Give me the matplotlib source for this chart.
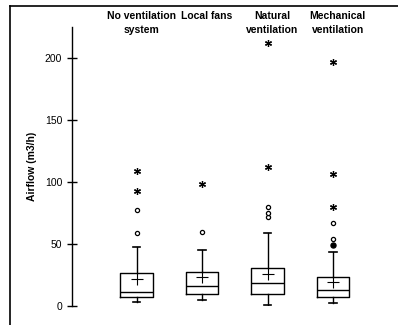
import matplotlib
matplotlib.use("Agg")
from matplotlib import pyplot as plt
from matplotlib.lines import Line2D
from matplotlib.transforms import blended_transform_factory

plt.rcParams['font.family'] = ['Liberation Sans', 'DejaVu Sans']

# box statistics (m3/h)
categories = ["No ventilation\nsystem", "Local fans", "Natural\nventilation", "Mechanical\nventilation"]
q1 = [7.3, 9.4, 9.6, 7.0]
median = [11.3, 16.1, 18.0, 12.9]
q3 = [26.1, 27.4, 30.1, 22.9]
mean = [21.5, 22.9, 25.5, 19.4]
whis_low = [2.7, 4.6, 0.3, 2.4]
whis_high = [47.3, 44.9, 59.0, 43.5]
outliers = [[58.9, 77.2], [59.2], [71.8, 74.5, 79.3], [53.5, 66.4]]
outliers_filled = [[], [], [], [48.6]]
extremes = [[92.5, 108.9], [97.9], [111.6, 212.1], [79.9, 106.0, 196.8]]
yticks = [0, 50, 100, 150, 200]

fig = plt.figure(figsize=(3.98, 3.25), dpi=100)
ax = fig.add_axes([72/398, 1-305.7/325, 318/398, (305.7-27)/325])

positions = list(range(1, len(categories)+1))
stats = []
for i in range(len(categories)):
    stats.append(dict(med=median[i], q1=q1[i], q3=q3[i], whislo=whis_low[i],
                      whishi=whis_high[i], mean=mean[i], fliers=[]))

ax.bxp(stats, positions=positions, widths=0.5, capwidths=0.11, showmeans=True,
       boxprops=dict(color='black', linewidth=1),
       medianprops=dict(color='black', linewidth=1),
       whiskerprops=dict(color='black', linewidth=1),
       capprops=dict(color='black', linewidth=1.2),
       meanprops=dict(marker='+', markersize=9, markeredgecolor='black', markeredgewidth=0.8))

for p, vals in zip(positions, outliers):
    ax.plot([p]*len(vals), vals, ls='none', marker='o', markersize=3,
            markerfacecolor='white', markeredgecolor='black', markeredgewidth=0.9)
for p, vals in zip(positions, outliers_filled):
    ax.plot([p]*len(vals), vals, ls='none', marker='o', markersize=3.6,
            markerfacecolor='black', markeredgecolor='black')
for p, vals in zip(positions, extremes):
    ax.plot([p]*len(vals), vals, ls='none', marker=(6, 2, 0), markersize=5,
            markeredgecolor='black', markeredgewidth=0.9)

ax.set_xlim(1 - 64.5/65.5, 4 + 57/65.5)
ax.set_ylim(0, 224.8)
ax.set_yticks(yticks)
ax.tick_params(axis='y', direction='inout', length=7, width=1, pad=3.5, labelsize=7.5)
ax.set_xticks([])
for s in ['top', 'right', 'bottom']:
    ax.spines[s].set_visible(False)
ax.spines['left'].set_linewidth(1)
ax.patch.set_visible(False)

# category labels on top
label_tr = blended_transform_factory(ax.transData, fig.transFigure)
for p, lab in zip(positions, categories):
    ax.text(p + 0.07, 1 - 11/325, lab, transform=label_tr,
            ha='center', va='top', fontsize=7.5, fontweight='bold', linespacing=1.5)

fig.text(32/398, 1-166.5/325, "Airflow (m3/h)", rotation=90, ha='center', va='center',
         fontsize=7.5, fontweight='bold')

# frame lines (left and top) of the original picture
fig.add_artist(Line2D([10/398, 10/398], [0, 1-5.5/325], transform=fig.transFigure, color='black', lw=1.2))
fig.add_artist(Line2D([10/398, 1], [1-5.5/325, 1-5.5/325], transform=fig.transFigure, color='black', lw=1.2))

fig.savefig("out.png", dpi=100)
